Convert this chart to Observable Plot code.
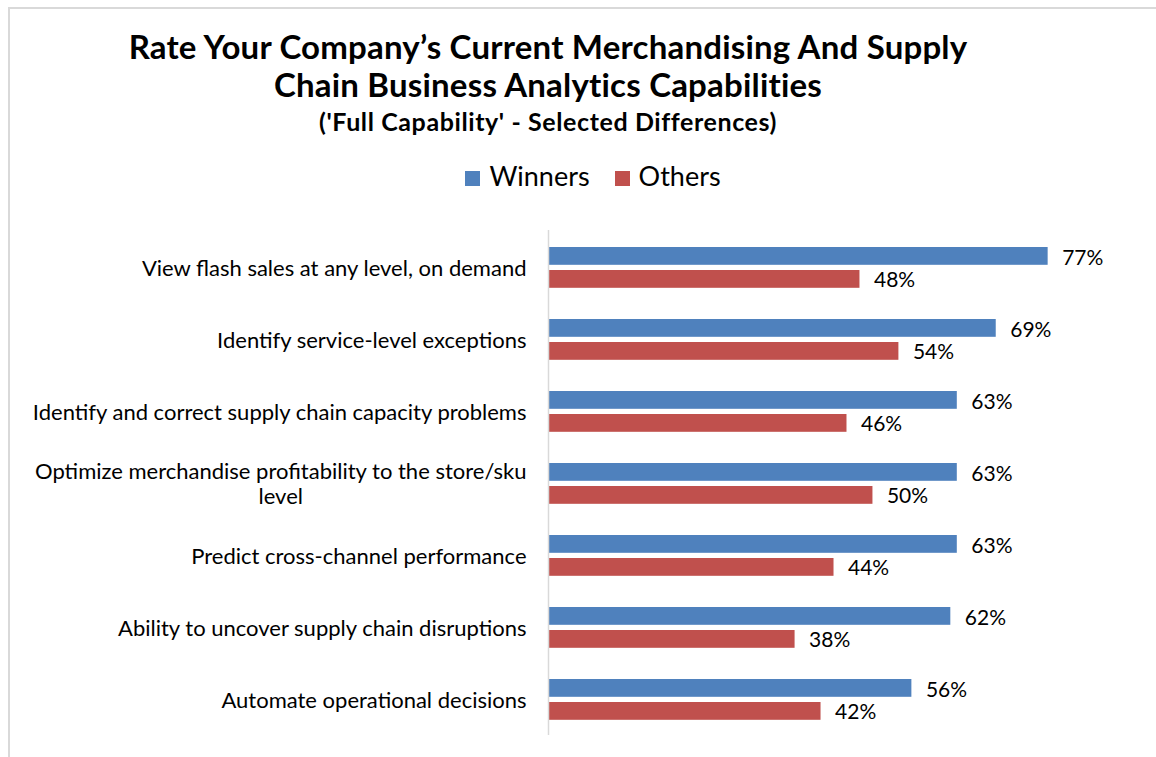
<!DOCTYPE html>
<html><head><meta charset="utf-8">
<script src="https://cdn.jsdelivr.net/npm/d3@7"></script>
<script src="https://cdn.jsdelivr.net/npm/@observablehq/plot@0.6"></script>
<style>
body{margin:0;background:#fff;font-family:Lato,"Open Sans",sans-serif;color:#000;width:1156px;height:757px;overflow:hidden;position:relative}
#frame{position:absolute;left:8px;top:7px;width:1300px;height:800px;border-left:2px solid #d9d9d9;border-top:2px solid #d9d9d9}
.title{position:absolute;left:8px;width:1080px;text-align:center;font-weight:700}
#t1{top:27px;font-size:33px;line-height:38px;letter-spacing:0.2px}
#t2{top:106px;font-size:25px;line-height:30px;letter-spacing:0.6px}
#legend{position:absolute;top:159px;left:12px;width:1162px;display:flex;justify-content:center;gap:25px;font-size:27px;align-items:center}
.sw{display:inline-block;width:15px;height:15px;margin-right:9px;vertical-align:middle;position:relative;top:-1px}
#chart{position:absolute;left:0;top:200px}
</style></head>
<body>
<div id="frame"></div>
<div class="title" id="t1">Rate Your Company’s Current Merchandising And Supply<br>Chain Business Analytics Capabilities</div>
<div class="title" id="t2">('Full Capability' - Selected Differences)</div>
<div id="legend"></div>
<div id="chart"></div>
<script>
const categories = [
  "View flash sales at any level, on demand",
  "Identify service-level exceptions",
  "Identify and correct supply chain capacity problems",
  "Optimize merchandise profitability to the store/sku level",
  "Predict cross-channel performance",
  "Ability to uncover supply chain disruptions",
  "Automate operational decisions"
];
const tickLabels = [
  "View flash sales at any level, on demand",
  "Identify service-level exceptions",
  "Identify and correct supply chain capacity problems",
  "Optimize merchandise profitability to the store/sku\nlevel",
  "Predict cross-channel performance",
  "Ability to uncover supply chain disruptions",
  "Automate operational decisions"
];
const winners = [77, 69, 63, 63, 63, 62, 56];
const others = [48, 54, 46, 50, 44, 38, 42];
const seriesNames = ["Winners", "Others"];
const seriesColors = ["#4F81BD", "#C0504D"];

const rows = categories.map((c, i) => ({category: c, winners: winners[i], others: others[i]}));

const legend = document.getElementById("legend");
seriesNames.forEach((n, i) => {
  const s = document.createElement("span");
  s.innerHTML = `<span class="sw" style="background:${seriesColors[i]}"></span>${n}`;
  legend.appendChild(s);
});

const chart = Plot.plot({
  width: 1156,
  height: 557,
  marginLeft: 548,
  marginRight: 24,
  marginTop: 30,
  marginBottom: 22,
  style: {fontFamily: "Lato, 'Open Sans', sans-serif", fontSize: "20px", color: "#000", background: "transparent"},
  x: {domain: [0, 90], axis: null},
  y: {domain: categories, padding: 0, axis: null},
  marks: [
    Plot.barX(rows, {x: "winners", y: "category", fill: seriesColors[0], insetTop: 16, insetBottom: 38.2}),
    Plot.barX(rows, {x: "others", y: "category", fill: seriesColors[1], insetTop: 39, insetBottom: 15.2}),
    Plot.text(rows, {x: "winners", y: "category", text: d => d.winners + "%", dx: 14, dy: -9.5, textAnchor: "start", fill: "#000", fontSize: 21}),
    Plot.text(rows, {x: "others", y: "category", text: d => d.others + "%", dx: 14, dy: 13, textAnchor: "start", fill: "#000", fontSize: 21}),
    Plot.ruleX([0], {stroke: "#d9d9d9", strokeWidth: 1.5}),
    Plot.axisY({tickSize: 0, tickPadding: 22, fontSize: 22, label: null, tickFormat: d => tickLabels[categories.indexOf(d)], lineHeight: 1.15})
  ]
});
document.getElementById("chart").appendChild(chart);

// center-align multi-line tick labels like the original
chart.querySelectorAll("text").forEach(t => {
  const spans = t.querySelectorAll("tspan");
  if (spans.length > 1) {
    const w = t.getBBox().width;
    t.setAttribute("text-anchor", "middle");
    spans.forEach(s => s.setAttribute("x", -w / 2));
  }
});
</script>
</body></html>
